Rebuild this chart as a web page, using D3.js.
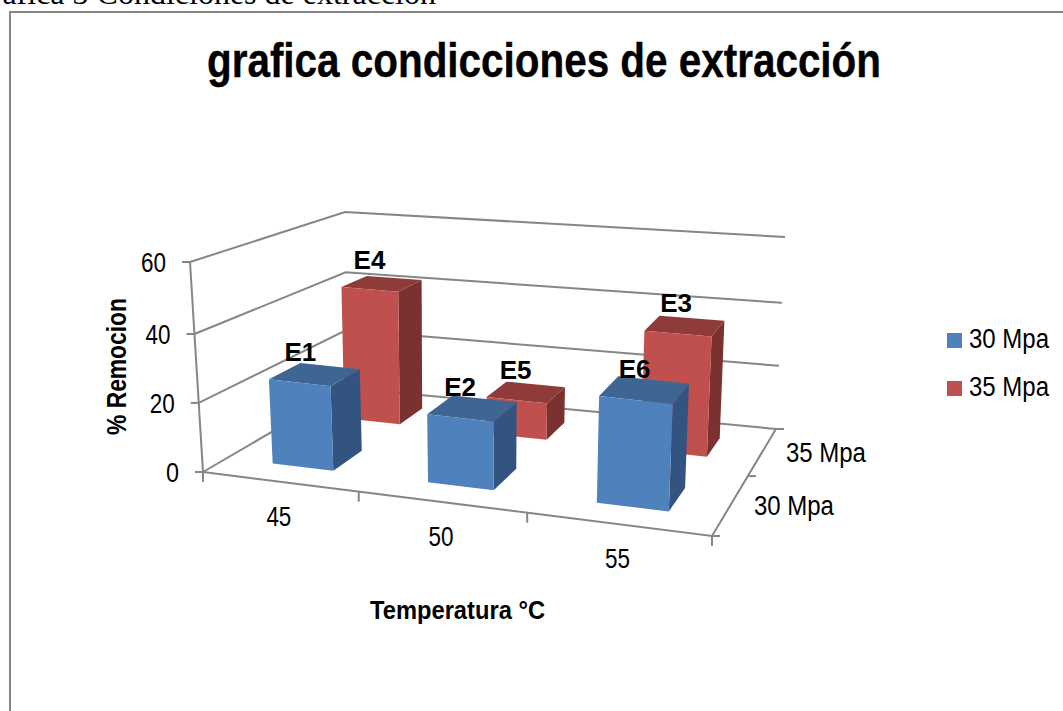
<!DOCTYPE html>
<html>
<head>
<meta charset="utf-8">
<script src="https://cdn.jsdelivr.net/npm/d3@7"></script>
<style>
  html, body { margin: 0; padding: 0; background: #fff; overflow: hidden; }
  text { font-family: "Liberation Sans", Arial, sans-serif; fill: #000; }
</style>
</head>
<body>
<div id="chart-area"></div>
<script>
const heading = "Grafica 3 Condiciones de extracción";
const title = "grafica condicciones de extracción";
const xTitle = "Temperatura °C";
const yTitle = "% Remocion";

const temperatures = [45, 50, 55];
const pressures = [30, 35];
const seriesNames = ["30 Mpa", "35 Mpa"];
const yTicks = [0, 20, 40, 60];

const barNames30 = ["E1", "E2", "E6"];
const barNames35 = ["E4", "E5", "E3"];
const values30 = [25, 20, 31];
const values35 = [42.5, 11.5, 37];

const width = 1063;
const height = 711;

const svg = d3.select("#chart-area")
  .append("svg")
  .attr("width", width)
  .attr("height", height);

// piecewise scales give the foreshortening of the 3d box, 0..1 along each edge
const x = d3.scaleLinear().domain([42.5, 47.5, 52.5, 57.5]).range([0, 0.306, 0.637, 1]);
const z = d3.scaleLinear().domain([27.5, 32.5, 37.5]).range([0, 0.56, 1]);
const y = d3.scaleLinear().domain(yTicks).range([0, 0.329, 0.657, 1]);

// screen position of the box corners: [bottom, top], front and back, left and right
const box = {
  frontLeft: [[203, 472], [190, 262]],
  frontRight: [[712, 536], [722, 321]],
  backLeft: [[347, 388], [345, 212]],
  backRight: [[776, 429], [785, 237]]
};

function project(temp, press, val) {
  const u = x(temp), v = z(press), w = y(val);
  const at = c => [
    c[0][0] + (c[1][0] - c[0][0]) * w,
    c[0][1] + (c[1][1] - c[0][1]) * w
  ];
  const fl = at(box.frontLeft), fr = at(box.frontRight);
  const bl = at(box.backLeft), br = at(box.backRight);
  const front = [fl[0] + (fr[0] - fl[0]) * u, fl[1] + (fr[1] - fl[1]) * u];
  const back = [bl[0] + (br[0] - bl[0]) * u, bl[1] + (br[1] - bl[1]) * u];
  return [front[0] + (back[0] - front[0]) * v, front[1] + (back[1] - front[1]) * v];
}

const line = d3.line();
const axisColor = "#868686";
const xMin = 42.5, xMax = 57.5, zMin = 27.5, zMax = 37.5;

// chart frame runs off the page on the right and bottom
svg.append("path")
  .attr("d", "M1063,12H10V711")
  .attr("fill", "none")
  .attr("stroke", axisColor)
  .attr("stroke-width", 2);

svg.append("text")
  .attr("x", 436)
  .attr("y", 4)
  .attr("text-anchor", "end")
  .style("font-family", "'Liberation Serif', serif")
  .style("font-size", "32px")
  .text(heading);

svg.append("text")
  .attr("x", 207)
  .attr("y", 77)
  .attr("textLength", 674)
  .attr("lengthAdjust", "spacingAndGlyphs")
  .style("font-size", "49px")
  .style("font-weight", "bold")
  .style("stroke", "#000")
  .style("stroke-width", 0.4)
  .text(title);

// walls
const axes = svg.append("g")
  .attr("fill", "none")
  .attr("stroke", axisColor)
  .attr("stroke-width", 2);

yTicks.forEach(t => {
  axes.append("path").attr("d", line([
    project(xMin, zMin, t), project(xMin, zMax, t), project(xMax, zMax, t)
  ]));
  const p = project(xMin, zMin, t);
  axes.append("path").attr("d", line([[p[0] - 8, p[1]], p]));
});
axes.append("path").attr("d", line([project(xMin, zMin, 0), project(xMin, zMin, 60)]));

// floor edges and ticks
axes.append("path").attr("d", line([
  project(xMin, zMin, 0), project(xMax, zMin, 0), project(xMax, zMax, 0)
]));
x.domain().forEach(t => {
  const p = project(t, zMin, 0);
  axes.append("path").attr("d", line([p, [p[0], p[1] + 10]]));
});
z.domain().forEach(t => {
  const p = project(xMax, t, 0);
  axes.append("path").attr("d", line([p, [p[0] + 8, p[1]]]));
});

// bars, back row first so the front row covers it
const bars = [];
pressures.forEach((press, j) => {
  const vals = j === 0 ? values30 : values35;
  const names = j === 0 ? barNames30 : barNames35;
  temperatures.forEach((temp, i) => {
    bars.push({ temp, press, value: vals[i], name: names[i], series: j });
  });
});
bars.sort((a, b) => b.press - a.press);

const front = ["#4F81BD", "#C0504D"];
const topFace = ["#3F6592", "#8F3B39"];
const sideFace = ["#335480", "#7A312F"];
const half = 1;

const barG = svg.selectAll(".bar")
  .data(bars)
  .enter().append("g")
  .attr("class", "bar");

barG.append("path")
  .attr("fill", d => sideFace[d.series])
  .attr("d", d => line([
    project(d.temp + half, d.press - half, 0),
    project(d.temp + half, d.press + half, 0),
    project(d.temp + half, d.press + half, d.value),
    project(d.temp + half, d.press - half, d.value)
  ]) + "Z");

barG.append("path")
  .attr("fill", d => topFace[d.series])
  .attr("d", d => line([
    project(d.temp - half, d.press - half, d.value),
    project(d.temp + half, d.press - half, d.value),
    project(d.temp + half, d.press + half, d.value),
    project(d.temp - half, d.press + half, d.value)
  ]) + "Z");

barG.append("path")
  .attr("fill", d => front[d.series])
  .attr("d", d => line([
    project(d.temp - half, d.press - half, 0),
    project(d.temp + half, d.press - half, 0),
    project(d.temp + half, d.press - half, d.value),
    project(d.temp - half, d.press - half, d.value)
  ]) + "Z");

svg.selectAll(".bar-label")
  .data(bars)
  .enter().append("text")
  .attr("class", "bar-label")
  .attr("x", d => project(d.temp, d.press - 0.7, d.value)[0] - 4)
  .attr("y", d => project(d.temp, d.press - 0.7, d.value)[1] - 19)
  .attr("text-anchor", "middle")
  .style("font-size", "26px")
  .style("font-weight", "bold")
  .text(d => d.name);

// tick labels
const tickFont = "27px";

svg.selectAll(".y-label")
  .data(yTicks)
  .enter().append("text")
  .attr("class", "y-label")
  .attr("x", d => project(xMin, zMin, d)[0] - 24)
  .attr("y", d => project(xMin, zMin, d)[1] + 10)
  .attr("text-anchor", "end")
  .attr("textLength", d => d === 0 ? 13 : 25)
  .attr("lengthAdjust", "spacingAndGlyphs")
  .style("font-size", tickFont)
  .text(d => d);

svg.selectAll(".x-label")
  .data(temperatures)
  .enter().append("text")
  .attr("class", "x-label")
  .attr("x", d => project(d, zMin, 0)[0] - 2)
  .attr("y", d => project(d, zMin, 0)[1] + 44)
  .attr("text-anchor", "middle")
  .attr("textLength", 25)
  .attr("lengthAdjust", "spacingAndGlyphs")
  .style("font-size", tickFont)
  .text(d => d);

svg.selectAll(".z-label")
  .data(pressures)
  .enter().append("text")
  .attr("class", "z-label")
  .attr("x", d => project(xMax, d, 0)[0] + 24)
  .attr("y", d => project(xMax, d, 0)[1] + 9)
  .attr("textLength", 80)
  .attr("lengthAdjust", "spacingAndGlyphs")
  .style("font-size", tickFont)
  .text((d, i) => seriesNames[i]);

// axis titles
svg.append("text")
  .attr("x", 370)
  .attr("y", 619)
  .attr("textLength", 175)
  .attr("lengthAdjust", "spacingAndGlyphs")
  .style("font-size", "26px")
  .style("font-weight", "bold")
  .text(xTitle);

svg.append("text")
  .attr("transform", "translate(126,435) rotate(-90)")
  .attr("textLength", 137)
  .attr("lengthAdjust", "spacingAndGlyphs")
  .style("font-size", "27px")
  .style("font-weight", "bold")
  .text(yTitle);

// legend
const legend = svg.selectAll(".legend")
  .data(seriesNames)
  .enter().append("g")
  .attr("class", "legend")
  .attr("transform", (d, i) => `translate(947,${333 + i * 48})`);

legend.append("rect")
  .attr("width", 15)
  .attr("height", 15)
  .attr("fill", (d, i) => front[i]);

legend.append("text")
  .attr("x", 22)
  .attr("y", 15)
  .attr("textLength", 80)
  .attr("lengthAdjust", "spacingAndGlyphs")
  .style("font-size", tickFont)
  .text(d => d);
</script>
</body>
</html>
